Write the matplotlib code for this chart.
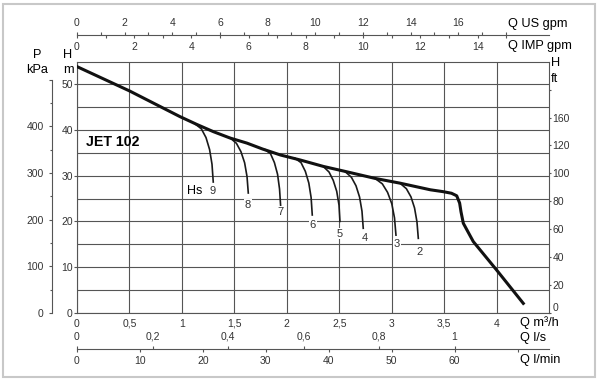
"""
JET 102 pump curve (H vs Q) with suction lift curves Hs
"""

import matplotlib
matplotlib.use('Agg')
import matplotlib.pyplot as plt
from matplotlib.patches import Rectangle
from matplotlib.ticker import FixedLocator

plt.rcParams['font.family'] = ['Liberation Sans', 'DejaVu Sans']

# main curve (Q m3/h, H m)
q_main = [0, 0.5, 0.98, 1.14, 1.30, 1.46, 1.62, 1.77, 1.94, 2.13, 2.35, 2.56, 2.84,
          3.08, 3.37, 3.49, 3.57, 3.62, 3.648, 3.661, 3.683, 3.778, 4.0, 4.255]
h_main = [53.8, 48.5, 42.9, 41.2, 39.6, 38.2, 37.1, 35.8, 34.5, 33.4, 32.0, 30.9, 29.4,
          28.35, 26.9, 26.5, 26.15, 25.6, 24.0, 22.1, 19.6, 15.6, 9.4, 2.1]

# suction lift curves
hs_names = ['9', '8', '7', '6', '5', '4', '3', '2']
hs9_q = [1.12, 1.186, 1.230, 1.264, 1.287, 1.299]
hs9_h = [41.4, 40.2, 38.3, 35.7, 32.5, 28.6]
hs8_q = [1.459, 1.520, 1.563, 1.598, 1.621, 1.633]
hs8_h = [38.25, 37.05, 35.23, 32.81, 29.79, 26.2]
hs7_q = [1.792, 1.845, 1.882, 1.912, 1.931, 1.942]
hs7_h = [35.7, 34.78, 32.85, 30.30, 27.08, 23.2]
hs6_q = [2.078, 2.136, 2.177, 2.210, 2.232, 2.243]
hs6_h = [33.8, 32.83, 30.93, 28.39, 25.22, 21.4]
hs5_q = [2.348, 2.403, 2.443, 2.476, 2.498, 2.507]
hs5_h = [32.0, 30.78, 28.96, 26.58, 23.56, 20.0]
hs4_q = [2.555, 2.616, 2.660, 2.694, 2.717, 2.729]
hs4_h = [30.9, 29.64, 27.78, 25.31, 22.23, 18.5]
hs3_q = [2.841, 2.911, 2.961, 3.001, 3.027, 3.041]
hs3_h = [29.4, 28.20, 26.34, 23.87, 20.77, 17.0]
hs2_q = [3.079, 3.140, 3.184, 3.218, 3.241, 3.254]
hs2_h = [28.35, 27.15, 25.36, 22.95, 19.93, 16.3]

# scales / ticks
m3h_ticks = [0, 0.5, 1, 1.5, 2, 2.5, 3, 3.5, 4]
m3h_labels = ['0', '0,5', '1', '1,5', '2', '2,5', '3', '3,5', '4']
hm_ticks = [0, 10, 20, 30, 40, 50]
kpa_ticks = [0, 100, 200, 300, 400, 500]
kpa_labels = ['0', '100', '200', '300', '400', '']
ft_ticks = [0, 20, 40, 60, 80, 100, 120, 140, 160]
ft_labels = ['0', '20', '40', '60', '80', '100', '120', '160', '']
us_ticks = list(range(0, 19))
us_labels = [str(v) if v % 2 == 0 and v <= 16 else '' for v in us_ticks]
imp_ticks = list(range(0, 16))
imp_labels = [str(v) if v % 2 == 0 and v <= 14 else '' for v in imp_ticks]
ls_ticks = [0, 0.2, 0.4, 0.6, 0.8, 1.0]
ls_labels = ['0', '0,2', '0,4', '0,6', '0,8', '1']
lmin_ticks = [0, 10, 20, 30, 40, 50, 60, 70]
lmin_labels = ['0', '10', '20', '30', '40', '50', '60', '']

Q_MAX = 4.5
H_MAX = 54.7
GRID = '#555555'
TXT = '#333333'

W, H = 600, 381
def fx(px):
    return px / W
def fy(py):
    return 1 - py / H

fig = plt.figure(figsize=(6, 3.81), dpi=100)
fig.patches.append(Rectangle((fx(3), fy(377)), fx(592), 373 / H, transform=fig.transFigure,
                             fill=False, edgecolor='#c8c8c8', linewidth=1.5))

left, bottom = fx(77), fy(313)
width, height = 472 / W, (313 - 62.5) / H
ax = fig.add_axes([left, bottom, width, height])
ax.set_xlim(0, Q_MAX)
ax.set_ylim(0, H_MAX)
ax.set_axisbelow(True)

ax.set_xticks(m3h_ticks)
ax.set_xticklabels(m3h_labels)
ax.set_yticks(hm_ticks)
ax.yaxis.set_minor_locator(FixedLocator(list(range(5, 55, 10))))
ax.tick_params(axis='x', length=0, pad=4.3, labelsize=7.5, labelcolor=TXT)
ax.tick_params(axis='y', length=2.2, width=0.8, color=GRID, pad=0.8, labelsize=7.5, labelcolor=TXT)
ax.tick_params(axis='y', which='minor', length=0)
ax.grid(True, which='both', color=GRID, linewidth=0.8)
for s in ax.spines.values():
    s.set_color(GRID)
    s.set_linewidth(0.8)

ax.plot(q_main, h_main, color='#111111', linewidth=2.2, solid_joinstyle='round', zorder=4)

hs_q = [hs9_q, hs8_q, hs7_q, hs6_q, hs5_q, hs4_q, hs3_q, hs2_q]
hs_h = [hs9_h, hs8_h, hs7_h, hs6_h, hs5_h, hs4_h, hs3_h, hs2_h]
label_off = [(-0.6, -8.7), (-0.3, -11.7), (-0.7, -5.5), (0.4, -10), (-0.7, -12.3),
             (1.7, -10), (0.7, -9), (1, -13.4)]
for name, qs, hs, off in zip(hs_names, hs_q, hs_h, label_off):
    ax.plot(qs, hs, color='#1a1a1a', linewidth=1.2, solid_joinstyle='round', zorder=3)
    ax.annotate(name, (qs[-1], hs[-1]), xytext=off, textcoords='offset pixels',
                ha='center', va='center', fontsize=8, color=TXT, zorder=5,
                bbox=dict(facecolor='white', edgecolor='none', pad=0.6))

# P kPa axis on the left
ax_p = fig.add_axes([left, bottom, width, height])
ax_p.patch.set_visible(False)
ax_p.set_ylim(0, H_MAX * 9.80665)
ax_p.set_xlim(0, Q_MAX)
for k in ['top', 'right', 'bottom']:
    ax_p.spines[k].set_visible(False)
ax_p.spines['left'].set_position(('outward', 18))
ax_p.spines['left'].set_bounds(0, 500)
ax_p.spines['left'].set_color(GRID)
ax_p.spines['left'].set_linewidth(0.8)
ax_p.xaxis.set_visible(False)
ax_p.set_yticks(kpa_ticks)
ax_p.set_yticklabels(kpa_labels)
ax_p.yaxis.set_minor_locator(FixedLocator([50, 150, 250, 350, 450]))
ax_p.tick_params(axis='y', length=2.5, width=0.8, color=GRID, pad=3.5, labelsize=7.5, labelcolor=TXT)
ax_p.tick_params(axis='y', which='minor', length=1.8, width=0.8, color=GRID)

# H ft axis on the right
ax_ft = ax.twinx()
ax_ft.set_ylim(0, H_MAX / 0.3048)
ax_ft.set_yticks(ft_ticks)
ax_ft.set_yticklabels(ft_labels)
ax_ft.tick_params(axis='y', length=1.5, width=0.8, color=GRID, pad=1, labelsize=7.5, labelcolor=TXT)
ax_ft.get_yticklabels()[0].set_va('bottom')
for s in ax_ft.spines.values():
    s.set_visible(False)


# flow scale lines: one unit above the line, one below
def scale_line(y_px, factor_top, ticks_top, labels_top, factor_bot, ticks_bot, labels_bot):
    a1 = fig.add_axes([left, fy(y_px), width, 0.0001])
    a1.patch.set_visible(False)
    a1.set_xlim(0, Q_MAX * factor_top)
    for k in ['top', 'left', 'right']:
        a1.spines[k].set_visible(False)
    a1.spines['bottom'].set_color(GRID)
    a1.spines['bottom'].set_linewidth(0.8)
    a1.yaxis.set_visible(False)
    a1.xaxis.set_ticks_position('top')
    a1.set_xticks(ticks_top)
    a1.set_xticklabels(labels_top)
    a1.tick_params(axis='x', direction='out', length=2.5, width=0.8, color=GRID,
                   pad=2.8, labelsize=7.5, labelcolor=TXT)
    a2 = fig.add_axes([left, fy(y_px), width, 0.0001])
    a2.patch.set_visible(False)
    a2.set_xlim(0, Q_MAX * factor_bot)
    for s in a2.spines.values():
        s.set_visible(False)
    a2.yaxis.set_visible(False)
    a2.set_xticks(ticks_bot)
    a2.set_xticklabels(labels_bot)
    a2.tick_params(axis='x', direction='out', length=2.5, width=0.8, color=GRID,
                   pad=2.8, labelsize=7.5, labelcolor=TXT)


scale_line(35, 4.40287, us_ticks, us_labels, 3.66615, imp_ticks, imp_labels)
scale_line(349, 1 / 3.6, ls_ticks, ls_labels, 1000 / 60, lmin_ticks, lmin_labels)

# unit labels
ufs = 9.2
fig.text(fx(508), fy(24), 'Q US gpm', ha='left', va='center', fontsize=ufs)
fig.text(fx(508), fy(45.5), 'Q IMP gpm', ha='left', va='center', fontsize=ufs)
fig.text(fx(520), fy(323), 'Q m³/h', ha='left', va='center', fontsize=ufs)
fig.text(fx(520), fy(338), 'Q l/s', ha='left', va='center', fontsize=ufs)
fig.text(fx(520), fy(359.5), 'Q l/min', ha='left', va='center', fontsize=ufs)
fig.text(fx(37), fy(54.5), 'P', ha='center', va='center', fontsize=ufs)
fig.text(fx(37), fy(70), 'kPa', ha='center', va='center', fontsize=ufs)
fig.text(fx(68), fy(54.5), 'H', ha='center', va='center', fontsize=ufs)
fig.text(fx(68), fy(70), 'm', ha='center', va='center', fontsize=ufs)
fig.text(fx(551), fy(63), 'H', ha='left', va='center', fontsize=ufs)
fig.text(fx(551), fy(79), 'ft', ha='left', va='center', fontsize=ufs)
fig.text(fx(86), fy(142), 'JET 102', ha='left', va='center', fontsize=10.2, fontweight='bold')
fig.text(fx(195), fy(190.5), 'Hs', ha='center', va='center', fontsize=9)

fig.savefig('out.png', dpi=100, facecolor='white')
